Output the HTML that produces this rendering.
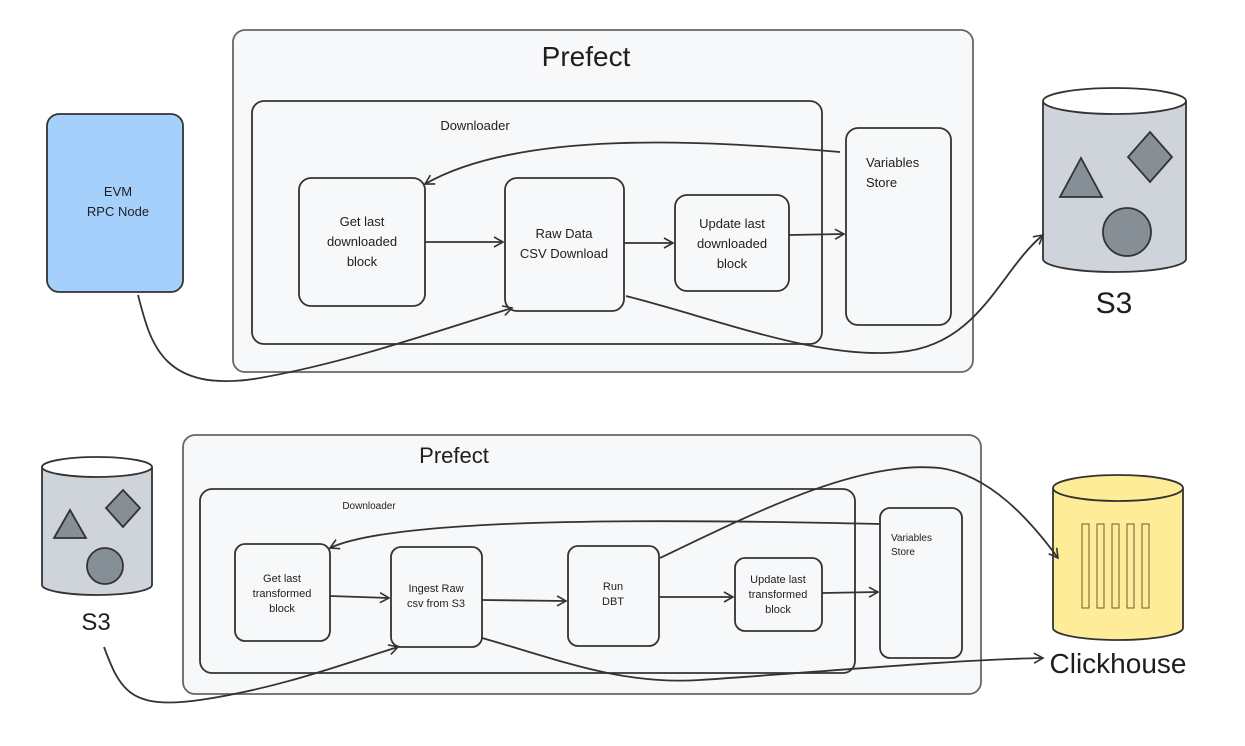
<!DOCTYPE html>
<html><head><meta charset="utf-8"><style>
html,body{margin:0;padding:0;background:#fff;}
svg{display:block;}
text{font-family:"Liberation Sans",sans-serif;fill:#1e1e1e;text-anchor:middle;}
</style></head><body>
<svg width="1245" height="746" viewBox="0 0 1245 746" xmlns="http://www.w3.org/2000/svg">
<defs>
<marker id="a" markerWidth="12" markerHeight="12" refX="10" refY="6" orient="auto" markerUnits="userSpaceOnUse">
<path d="M1,1 L10,6 L1,11" fill="none" stroke="#333" stroke-width="1.6"/>
</marker>
</defs>
<g stroke="#333" stroke-width="1.8" fill="none">
<!-- TOP -->
<rect x="233" y="30" width="740" height="342" rx="12" fill="#f7f8f9" stroke="#666"/>
<rect x="252" y="101" width="570" height="243" rx="12" fill="#f7f8f9"/>
<rect x="299" y="178" width="126" height="128" rx="12" fill="#f7f8f9"/>
<rect x="505" y="178" width="119" height="133" rx="12" fill="#f7f8f9"/>
<rect x="675" y="195" width="114" height="96" rx="12" fill="#f7f8f9"/>
<rect x="846" y="128" width="105" height="197" rx="12" fill="#f7f8f9"/>
<rect x="47" y="114" width="136" height="178" rx="12" fill="#a5d0fb" stroke="#333"/>
<!-- S3 top -->
<path d="M1043,101 L1043,259 A71.5,13 0 0 0 1186,259 L1186,101" fill="#ced4da"/>
<ellipse cx="1114.5" cy="101" rx="71.5" ry="13" fill="#fff"/>
<path d="M1060,197 L1102,197 L1081,158 Z" fill="#868e96"/>
<path d="M1150,132 L1172,157 L1150,182 L1128,157 Z" fill="#868e96"/>
<circle cx="1127" cy="232" r="24" fill="#868e96"/>
<!-- arrows top -->
<path d="M425,242 L503,242" marker-end="url(#a)"/>
<path d="M624,243 L673,243" marker-end="url(#a)"/>
<path d="M789,235 L844,234" marker-end="url(#a)"/>
<path d="M840,152 C700,140 520,130 425,184" marker-end="url(#a)"/>
<path d="M138,295 C150,340 160,395 260,378 C350,362 440,330 512,308" marker-end="url(#a)"/>
<path d="M626,296 C720,320 820,360 900,352 C980,345 1000,270 1043,235" marker-end="url(#a)"/>
<!-- BOTTOM -->
<rect x="183" y="435" width="798" height="259" rx="12" fill="#f7f8f9" stroke="#666"/>
<rect x="200" y="489" width="655" height="184" rx="12" fill="#f7f8f9"/>
<rect x="235" y="544" width="95" height="97" rx="10" fill="#f7f8f9"/>
<rect x="391" y="547" width="91" height="100" rx="10" fill="#f7f8f9"/>
<rect x="568" y="546" width="91" height="100" rx="10" fill="#f7f8f9"/>
<rect x="735" y="558" width="87" height="73" rx="10" fill="#f7f8f9"/>
<rect x="880" y="508" width="82" height="150" rx="10" fill="#f7f8f9"/>
<!-- S3 bottom -->
<path d="M42,467 L42,585 A55,10 0 0 0 152,585 L152,467" fill="#ced4da"/>
<ellipse cx="97" cy="467" rx="55" ry="10" fill="#fff"/>
<path d="M54,538 L86,538 L70,510 Z" fill="#868e96"/>
<path d="M123,490 L140,508 L123,527 L106,508 Z" fill="#868e96"/>
<circle cx="105" cy="566" r="18" fill="#868e96"/>
<!-- Clickhouse -->
<path d="M1053,488 L1053,628 A65,12 0 0 0 1183,628 L1183,488" fill="#ffec99"/>
<ellipse cx="1118" cy="488" rx="65" ry="13" fill="#ffec99"/>
<g stroke="#6b5d2a" stroke-width="1">
<rect x="1082" y="524" width="7" height="84"/>
<rect x="1097" y="524" width="7" height="84"/>
<rect x="1112" y="524" width="7" height="84"/>
<rect x="1127" y="524" width="7" height="84"/>
<rect x="1142" y="524" width="7" height="84"/>
</g>
<!-- arrows bottom -->
<path d="M330,596 L389,598" marker-end="url(#a)"/>
<path d="M482,600 L566,601" marker-end="url(#a)"/>
<path d="M659,597 L733,597" marker-end="url(#a)"/>
<path d="M822,593 L878,592" marker-end="url(#a)"/>
<path d="M880,524 C700,520 400,515 330,548" marker-end="url(#a)"/>
<path d="M104,647 C120,690 130,710 200,700 C280,688 340,665 398,647" marker-end="url(#a)"/>
<path d="M482,638 C560,660 620,685 700,680 C820,672 950,660 1043,658" marker-end="url(#a)"/>
<path d="M660,558 C760,510 860,460 940,468 C990,475 1030,520 1058,558" marker-end="url(#a)"/>
</g>
<!-- TEXT -->
<text x="586" y="66" font-size="28">Prefect</text>
<text x="475" y="130" font-size="13">Downloader</text>
<text x="362" y="226" font-size="13">Get last</text>
<text x="362" y="246" font-size="13">downloaded</text>
<text x="362" y="266" font-size="13">block</text>
<text x="564" y="238" font-size="13">Raw Data</text>
<text x="564" y="258" font-size="13">CSV Download</text>
<text x="732" y="228" font-size="13">Update last</text>
<text x="732" y="248" font-size="13">downloaded</text>
<text x="732" y="268" font-size="13">block</text>
<text x="866" y="167" font-size="13" style="text-anchor:start">Variables</text>
<text x="866" y="187" font-size="13" style="text-anchor:start">Store</text>
<text x="118" y="196" font-size="13">EVM</text>
<text x="118" y="216" font-size="13">RPC Node</text>
<text x="1114" y="313" font-size="30">S3</text>
<text x="454" y="463" font-size="22">Prefect</text>
<text x="369" y="509" font-size="10">Downloader</text>
<text x="282" y="582" font-size="11">Get last</text>
<text x="282" y="597" font-size="11">transformed</text>
<text x="282" y="612" font-size="11">block</text>
<text x="436" y="592" font-size="11">Ingest Raw</text>
<text x="436" y="607" font-size="11">csv from S3</text>
<text x="613" y="590" font-size="11">Run</text>
<text x="613" y="605" font-size="11">DBT</text>
<text x="778" y="583" font-size="11">Update last</text>
<text x="778" y="598" font-size="11">transformed</text>
<text x="778" y="613" font-size="11">block</text>
<text x="891" y="541" font-size="10" style="text-anchor:start">Variables</text>
<text x="891" y="555" font-size="10" style="text-anchor:start">Store</text>
<text x="96" y="630" font-size="24">S3</text>
<text x="1118" y="673" font-size="28">Clickhouse</text>
</svg>
</body></html>
